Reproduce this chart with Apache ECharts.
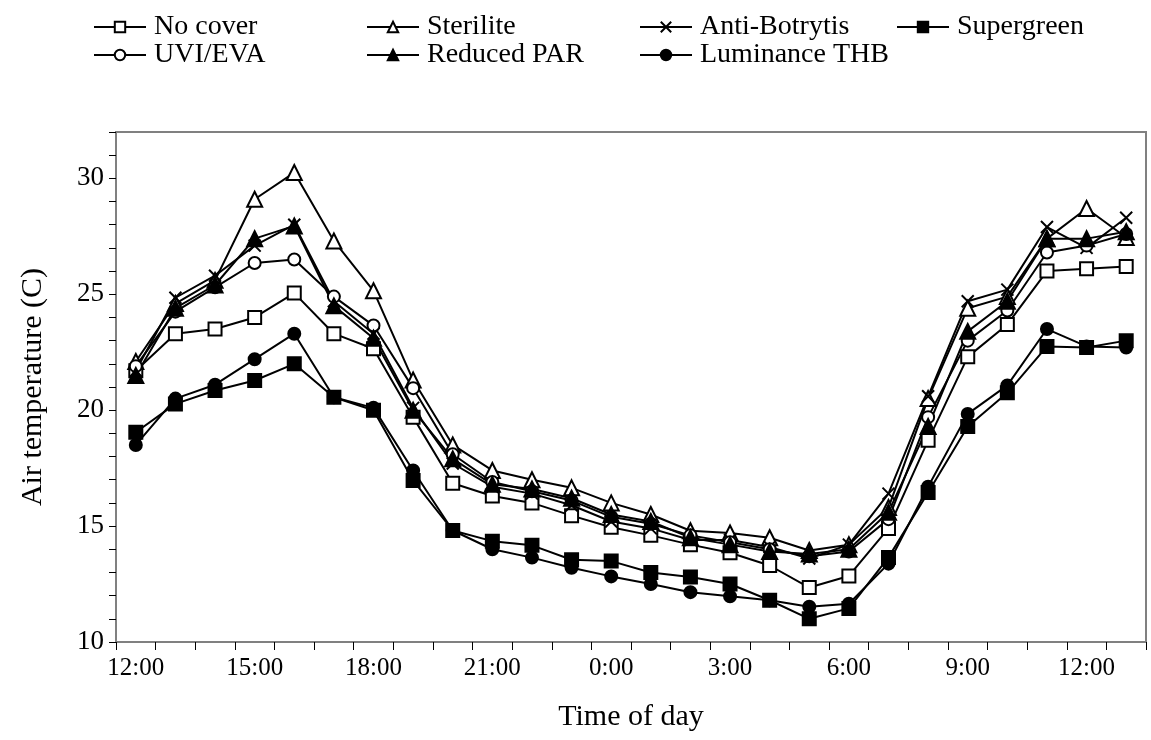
<!DOCTYPE html>
<html>
<head>
<meta charset="utf-8">
<script src="https://cdn.jsdelivr.net/npm/echarts@6/dist/echarts.min.js"></script>
<style>html,body{margin:0;padding:0;background:#fff}#c{width:1151px;height:740px}</style>
</head>
<body>
<div id="c"></div>
<script>
var categories = ['12:00','13:00','14:00','15:00','16:00','17:00','18:00','19:00','20:00','21:00','22:00','23:00',
  '0:00','1:00','2:00','3:00','4:00','5:00','6:00','7:00','8:00','9:00','10:00','11:00','12:00','13:00'];
var noCover = [21.7,23.3,23.5,24.0,25.05,23.3,22.65,19.7,16.85,16.3,16.0,15.45,14.95,14.6,14.2,13.85,13.3,12.35,12.85,14.9,18.7,22.3,23.7,26.0,26.1,26.2];
var sterilite = [22.1,24.6,25.6,29.1,30.25,27.3,25.15,21.3,18.5,17.4,17.0,16.65,16.0,15.5,14.8,14.7,14.5,13.95,14.2,15.8,20.5,24.4,24.9,27.4,28.7,27.45];
var antiBotrytis = [21.7,24.85,25.8,27.1,28.0,24.7,23.3,20.1,17.7,16.7,16.4,15.9,15.2,14.9,14.4,14.4,14.1,13.6,14.2,16.4,20.6,24.7,25.2,27.9,27.0,28.3];
var supergreen = [19.05,20.27,20.85,21.28,22.0,20.56,20.0,16.97,14.81,14.35,14.17,13.55,13.49,13.0,12.8,12.5,11.8,11.0,11.45,13.65,16.45,19.3,20.75,22.75,22.7,23.0];
var uviEva = [21.9,24.25,25.3,26.35,26.5,24.9,23.65,20.95,18.1,16.9,16.5,16.1,15.4,15.1,14.6,14.3,14.0,13.7,13.9,15.3,19.7,23.0,24.3,26.8,27.1,27.6];
var reducedPAR = [21.5,24.4,25.4,27.4,27.95,24.5,23.1,20.0,17.9,16.8,16.6,16.2,15.5,15.2,14.5,14.2,13.9,13.8,14.0,15.6,19.3,23.4,24.7,27.4,27.4,27.7];
var luminanceTHB = [18.5,20.5,21.1,22.2,23.3,20.56,20.1,17.4,14.81,14.0,13.64,13.2,12.83,12.5,12.15,11.97,11.8,11.52,11.65,13.38,16.7,19.84,21.07,23.5,22.75,22.7];
var yTickLabels = [10,15,20,25,30];

var FONT = '"Liberation Serif","Times New Roman",serif';
var XPATH = 'path://M0,0L10,10M10,0L0,10';

function mk(name, data, symbol, size, filled) {
  return {
    name: name, type: 'line', data: data,
    symbol: symbol, symbolSize: size, showAllSymbol: true,
    lineStyle: {color: '#000', width: 2},
    itemStyle: {color: filled ? '#000' : '#fff', borderColor: '#000', borderWidth: 2},
    emphasis: {disabled: true},
    animation: false
  };
}

var series = [
  mk('No cover', noCover, 'rect', 13, false),
  mk('Sterilite', sterilite, 'triangle', 15, false),
  mk('Anti-Botrytis', antiBotrytis, XPATH, 12, true),
  mk('Supergreen', supergreen, 'rect', 13, true),
  mk('UVI/EVA', uviEva, 'circle', 12, false),
  mk('Reduced PAR', reducedPAR, 'triangle', 15, true),
  mk('Luminance THB', luminanceTHB, 'circle', 12, true)
];

function leg(names, left) {
  return {
    data: names, left: left, top: 8, orient: 'vertical', itemGap: 0,
    itemWidth: 52, itemHeight: 13, selectedMode: false,
    textStyle: {fontFamily: FONT, fontSize: 28, lineHeight: 28, color: '#000', padding: [0,0,0,3]}
  };
}

var chart = echarts.init(document.getElementById('c'), null, {renderer: 'canvas'});
chart.setOption({
  backgroundColor: '#fff',
  animation: false,
  legend: [
    leg(['No cover','UVI/EVA'], 88),
    leg(['Sterilite','Reduced PAR'], 361),
    leg(['Anti-Botrytis','Luminance THB'], 634),
    leg(['Supergreen'], 891)
  ],
  grid: {left: 116, right: 5, top: 132, bottom: 98, show: true, borderColor: '#808080', borderWidth: 2, backgroundColor: 'transparent'},
  xAxis: {
    type: 'category', data: categories, boundaryGap: true,
    name: 'Time of day', nameLocation: 'middle', nameGap: 60,
    nameTextStyle: {fontFamily: FONT, fontSize: 30, color: '#000'},
    axisLine: {lineStyle: {color: '#808080', width: 2}},
    axisTick: {show: true, interval: 0, alignWithLabel: false, length: 8, inside: false, lineStyle: {color: '#000', width: 1}},
    axisLabel: {interval: 2, fontFamily: FONT, fontSize: 25, color: '#000', margin: 14},
    splitLine: {show: false}
  },
  yAxis: {
    type: 'value', min: 10, max: 32, interval: 1,
    name: 'Air temperature (C)', nameLocation: 'middle', nameGap: 68, nameRotate: 90,
    nameTextStyle: {fontFamily: FONT, fontSize: 30, color: '#000'},
    axisLine: {show: true, lineStyle: {color: '#808080', width: 2}},
    axisTick: {show: true, length: 7, lineStyle: {color: '#000', width: 1}},
    axisLabel: {fontFamily: FONT, fontSize: 27, color: '#000', margin: 12,
      formatter: function (v) { return yTickLabels.indexOf(v) >= 0 ? String(v) : ''; }},
    splitLine: {show: false}
  },
  series: series
});
</script>
</body>
</html>
